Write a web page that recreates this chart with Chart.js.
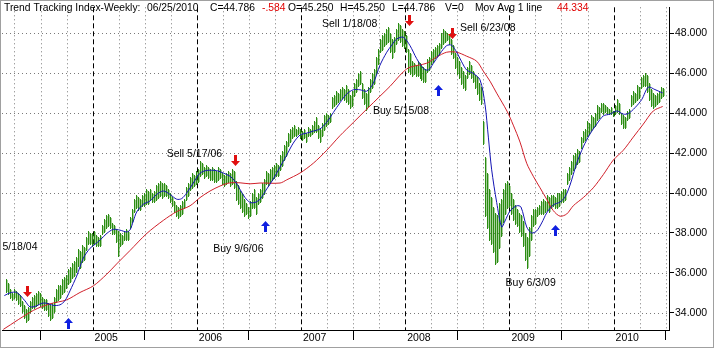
<!DOCTYPE html>
<html><head><meta charset="utf-8">
<script src="https://cdn.jsdelivr.net/npm/chart.js@4.4.1/dist/chart.umd.min.js"></script>
<style>html,body{margin:0;padding:0;background:#fff;overflow:hidden}canvas{display:block}</style>
</head><body><canvas id="c" width="714" height="348"></canvas>
<script>
// ---- weekly bars (high / low), last bar = week ending 06/25/2010 ----
const weekHigh = [
35.7,35.5,35.2,35.0,35.2,35.1,35.0,34.9,34.6,34.4,
34.2,34.3,34.6,34.8,34.9,35.0,35.1,35.0,34.8,34.7,
34.7,34.5,34.4,34.5,34.8,35.2,35.4,35.4,35.7,35.8,
35.9,36.2,36.3,36.5,36.6,36.8,37.2,37.1,37.4,37.3,
37.8,38.1,38.0,38.0,38.1,37.9,37.8,37.9,38.4,38.7,
38.9,38.95,38.8,38.5,38.4,38.2,38.1,38.0,37.9,38.1,
38.2,38.1,38.8,39.2,39.7,39.9,39.8,39.7,39.9,40.0,
40.2,40.1,40.2,40.0,40.1,40.4,40.5,40.6,40.5,40.5,
40.4,40.2,40.0,39.8,39.6,39.4,39.3,39.4,39.6,39.7,
40.3,40.5,40.8,41.0,40.9,41.1,41.2,41.6,41.5,41.3,
41.4,41.3,41.2,41.3,41.2,41.1,41.3,41.2,41.0,40.9,
41.0,41.1,41.0,41.2,41.1,40.6,40.4,40.1,40.0,39.7,
39.5,39.3,39.6,40.0,40.2,39.8,40.0,40.2,40.5,40.7,
41.1,41.0,41.2,41.3,41.4,41.5,41.4,41.9,42.1,42.4,
42.6,43.0,43.2,43.3,43.4,43.2,43.3,43.2,43.1,43.2,
43.0,43.3,43.2,43.4,43.6,43.8,43.4,43.2,43.5,43.9,
44.0,43.9,44.0,44.8,44.9,45.1,45.0,45.2,45.3,45.2,
45.4,45.2,44.9,45.1,45.5,45.7,46.0,46.1,45.5,45.2,
45.0,45.3,45.7,46.0,46.2,46.8,47.2,47.7,47.9,48.0,
48.2,48.3,48.0,47.7,47.8,48.2,48.5,48.4,48.2,48.1,
47.9,47.2,47.0,46.6,46.5,46.4,46.6,46.5,46.4,46.3,
46.2,46.7,46.8,47.1,47.2,47.3,47.4,47.5,48.0,48.2,
48.1,48.0,47.9,47.7,47.4,47.0,46.8,46.6,46.3,46.1,
45.9,46.3,46.6,46.4,46.1,45.9,45.8,45.5,45.3,43.6,
41.8,41.0,40.2,39.8,39.3,39.0,38.9,39.5,39.7,40.2,
40.5,40.6,40.4,40.0,39.7,39.4,39.2,39.0,38.9,38.6,
38.0,37.8,38.3,38.9,39.2,39.2,39.3,39.4,39.6,39.7,
39.6,39.9,39.8,39.9,39.9,39.8,40.0,40.0,40.1,40.2,
40.2,41.0,41.3,41.6,41.9,42.0,42.2,42.1,42.8,43.1,
43.2,43.6,43.5,43.9,43.8,44.0,44.4,44.3,44.5,44.5,
44.4,44.3,44.2,44.3,44.1,44.4,44.7,44.5,44.0,43.9,
43.8,44.1,44.2,44.9,45.1,45.0,45.4,45.3,45.8,45.9,
46.0,45.9,45.5,45.2,45.0,44.9,45.0,45.1,45.3,45.25];
const weekLow = [
35.0,34.9,34.7,34.6,34.7,34.6,34.4,34.3,34.0,33.7,
33.5,33.6,34.0,34.2,34.2,34.3,34.4,34.3,34.2,34.1,
34.1,33.8,33.6,33.7,34.0,34.5,34.6,34.7,34.9,35.0,
35.2,35.4,35.5,35.7,35.8,36.0,36.3,36.2,36.5,36.6,
37.1,37.4,37.4,37.3,37.4,37.3,37.3,37.3,37.9,38.0,
38.2,38.3,38.2,37.9,37.9,37.5,36.8,37.3,37.4,37.6,
37.6,37.6,38.2,38.5,39.0,39.2,39.1,39.1,39.3,39.3,
39.4,39.4,39.6,39.5,39.5,39.6,39.7,39.8,39.7,39.8,
39.8,39.7,39.5,39.3,39.0,38.8,38.7,38.8,38.9,39.2,
39.6,39.8,40.1,40.2,40.3,40.4,40.5,40.8,40.9,40.7,
40.8,40.7,40.6,40.6,40.5,40.5,40.6,40.7,40.4,40.3,
40.4,40.5,40.3,40.4,40.2,39.6,39.4,39.2,39.0,38.8,
38.9,38.7,38.8,39.2,39.2,38.9,39.4,39.5,39.7,39.9,
40.4,40.3,40.5,40.6,40.7,40.8,40.8,41.1,41.3,41.6,
41.8,42.3,42.5,42.7,42.8,42.8,42.9,42.7,42.6,42.7,
42.5,42.8,42.8,42.9,43.0,43.0,42.7,42.5,42.8,43.1,
43.3,43.4,43.5,44.2,44.3,44.4,44.5,44.6,44.7,44.6,
44.5,44.4,44.2,44.3,44.8,45.0,45.3,45.4,44.7,44.4,
44.1,44.3,45.0,45.2,45.4,45.9,46.4,47.0,47.1,47.3,
47.4,47.5,47.0,46.7,47.0,47.4,47.6,47.5,47.3,47.2,
47.0,46.0,45.9,45.8,45.9,45.8,45.8,45.7,45.6,45.5,
45.5,46.0,46.1,46.4,46.5,46.7,46.8,46.9,47.2,47.4,
47.5,47.6,47.4,46.9,46.7,46.2,45.9,45.7,45.4,45.2,
45.1,45.7,45.9,45.7,45.5,45.2,44.9,44.6,44.4,42.4,
38.8,38.2,37.6,37.4,37.0,36.4,36.5,37.2,37.8,38.5,
38.9,39.2,39.3,38.9,38.6,38.4,38.3,38.0,37.8,37.3,
36.6,36.2,36.8,37.6,38.3,38.4,38.8,38.9,38.9,38.9,
39.0,39.1,39.0,39.2,39.3,39.2,39.2,39.3,39.5,39.5,
39.6,40.4,40.6,40.9,41.1,41.2,41.4,41.5,42.2,42.5,
42.6,42.8,42.9,43.1,43.2,43.3,43.6,43.7,44.0,43.9,
44.0,43.9,43.9,43.9,43.8,43.9,44.0,43.9,43.4,43.2,
43.2,43.6,43.7,44.3,44.4,44.5,44.6,44.7,45.2,45.3,
45.3,45.0,44.6,44.3,44.2,44.3,44.4,44.5,44.7,44.786];
const lastWeekDate = [2010, 6, 25];

// ---- short moving average (blue) ----
const fastAvgYear = [2004.153,2004.207,2004.272,2004.351,2004.399,2004.464,2004.512,2004.560,2004.623,2004.687,2004.735,2004.783,2004.847,2004.911,2004.975,2005.023,2005.071,2005.135,2005.199,2005.263,2005.327,2005.359,2005.391,2005.423,2005.487,2005.551,2005.615,2005.679,2005.743,2005.807,2005.855,2005.903,2005.966,2006.031,2006.095,2006.191,2006.254,2006.319,2006.367,2006.415,2006.463,2006.511,2006.559,2006.607,2006.671,2006.734,2006.799,2006.863,2006.926,2006.990,2007.055,2007.118,2007.182,2007.247,2007.310,2007.374,2007.439,2007.502,2007.566,2007.631,2007.694,2007.758,2007.823,2007.870,2007.918,2007.982,2008.046,2008.110,2008.174,2008.222,2008.270,2008.334,2008.398,2008.446,2008.494,2008.542,2008.590,2008.654,2008.718,2008.766,2008.798,2008.830,2008.878,2008.926,2008.958,2009.006,2009.070,2009.111,2009.166,2009.214,2009.262,2009.310,2009.358,2009.421,2009.486,2009.534,2009.582,2009.646,2009.709,2009.774,2009.838,2009.901,2009.966,2010.030,2010.093,2010.141,2010.205,2010.270,2010.333,2010.397,2010.471];
const fastAvgValue = [34.86,35.00,35.02,34.60,34.30,34.35,34.48,34.48,34.37,34.40,34.61,35.10,35.84,36.74,37.23,37.43,37.64,37.97,38.18,38.14,38.05,38.15,38.60,39.05,39.44,39.60,39.93,40.10,39.93,39.69,39.72,40.00,40.50,40.99,41.13,41.12,41.00,40.84,40.59,40.18,39.77,39.53,39.53,39.69,40.20,40.70,41.30,41.90,42.50,42.90,43.00,43.10,43.21,43.54,44.03,44.52,44.96,45.17,45.17,45.10,45.50,46.40,47.05,47.40,47.71,47.80,47.38,46.73,46.24,46.16,46.49,46.98,47.38,47.40,47.05,46.57,46.16,45.99,45.67,44.44,42.80,41.16,39.53,38.30,38.60,39.10,39.36,39.30,38.30,38.00,38.10,38.50,39.00,39.40,39.55,39.80,40.40,41.49,42.31,42.96,43.45,43.86,43.95,44.11,43.95,43.98,44.27,44.68,45.30,45.18,45.01];

// ---- long moving average (red) ----
const slowAvgYear = [2004.143,2004.431,2004.591,2004.751,2004.879,2005.007,2005.135,2005.231,2005.359,2005.519,2005.679,2005.807,2005.935,2006.031,2006.127,2006.223,2006.319,2006.415,2006.511,2006.607,2006.799,2006.863,2006.990,2007.118,2007.247,2007.374,2007.502,2007.631,2007.758,2007.854,2007.982,2008.046,2008.206,2008.302,2008.398,2008.494,2008.590,2008.686,2008.750,2008.814,2008.878,2008.977,2009.037,2009.102,2009.166,2009.229,2009.294,2009.358,2009.421,2009.486,2009.550,2009.613,2009.709,2009.805,2009.901,2009.997,2010.093,2010.189,2010.285,2010.381,2010.471];
const slowAvgValue = [33.17,34.12,34.45,34.65,35.02,35.35,35.93,36.45,37.12,37.97,38.63,39.07,39.36,39.77,40.10,40.35,40.51,40.51,40.46,40.50,40.50,40.66,41.00,41.49,42.14,42.87,43.53,44.20,44.85,45.34,46.07,46.30,46.50,46.81,47.05,47.05,46.85,46.60,46.10,45.60,45.00,44.10,43.40,42.55,41.49,40.84,40.26,39.69,39.12,38.84,38.95,39.36,39.77,40.26,40.92,41.65,42.14,42.80,43.45,44.11,44.334];

// ---- axes ----
const yearTicks = [2005, 2006, 2007, 2008, 2009, 2010];
const priceTicks = [34, 36, 38, 40, 42, 44, 46, 48];

// ---- signals ----
const sellArrowYear = [2004.368, 2006.367, 2008.041, 2008.446];
const sellArrowPrice = [34.78, 41.33, 48.34, 47.73];
const buyArrowYear = [2004.767, 2006.655, 2008.318, 2009.441];
const buyArrowPrice = [33.73, 38.62, 45.42, 38.40];
const signalText = ['Sell 5/18/04', 'Sell 5/17/06', 'Buy 9/6/06', 'Sell 1/18/08', 'Buy 5/15/08', 'Sell 6/23/08', 'Buy 6/3/09'];
const signalYear = [2004.471, 2005.711, 2006.158, 2007.2015, 2007.691, 2008.526, 2008.963];
const signalPrice = [37.17, 41.78, 37.07, 48.29, 43.95, 48.12, 35.33];

// ---- header ----
const headerText = ['Trend Tracking Index-Weekly:', '06/25/2010', 'C=44.786', '-.584', 'O=45.250', 'H=45.250', 'L=44.786', 'V=0', 'Mov Avg 1 line', '44.334'];
const headerRed = [false, false, false, true, false, false, false, false, false, true];
const headerX = [4, 147, 210, 262, 288, 340, 392, 445, 475, 557];

const FONT_FAMILY = '"Liberation Sans", Arial, sans-serif';
const FONT_SIZE = 10.5;
const FONT = FONT_SIZE + 'px ' + FONT_FAMILY;
const HEADER_FONT = '10.3px ' + FONT_FAMILY;
const BAR_COLOR = '#2a8c12';
const BAR_SHADE = 'rgba(60,150,30,0.45)';

function toYear(ms) {
  const d = new Date(ms);
  const y = d.getUTCFullYear();
  const s = Date.UTC(y, 0, 1), e = Date.UTC(y + 1, 0, 1);
  return y + (ms - s) / (e - s);
}
const lastMs = Date.UTC(lastWeekDate[0], lastWeekDate[1] - 1, lastWeekDate[2]);
const barData = weekHigh.map((h, i) => ({
  x: toYear(lastMs - (weekHigh.length - 1 - i) * 7 * 86400000),
  y: [weekLow[i], h]
}));
const fastData = fastAvgYear.map((x, i) => ({x, y: fastAvgValue[i]}));
const slowData = slowAvgYear.map((x, i) => ({x, y: slowAvgValue[i]}));

const gridPlugin = {
  id: 'grid',
  beforeDatasetsDraw(chart) {
    const {ctx, chartArea: a, scales: {x, y}} = chart;
    ctx.save();
    ctx.lineWidth = 1;
    ctx.strokeStyle = '#7a7a7a';
    ctx.setLineDash([1, 3]);
    priceTicks.forEach(v => {
      const py = Math.round(y.getPixelForValue(v)) + 0.5;
      ctx.beginPath(); ctx.moveTo(a.left, py); ctx.lineTo(a.right, py); ctx.stroke();
    });
    for (let q = Math.ceil(x.min * 4); q <= Math.floor(x.max * 4); q++) {
      if (q % 4 === 0) continue;
      const px = Math.round(x.getPixelForValue(q / 4)) + 0.5;
      ctx.beginPath(); ctx.moveTo(px, a.top); ctx.lineTo(px, a.bottom); ctx.stroke();
    }
    ctx.strokeStyle = '#000';
    ctx.setLineDash([5, 3]);
    yearTicks.forEach(v => {
      const px = Math.round(x.getPixelForValue(v)) + 0.5;
      ctx.beginPath(); ctx.moveTo(px, a.top); ctx.lineTo(px, a.bottom); ctx.stroke();
    });
    ctx.restore();
  },
  beforeDatasetDraw(chart, args) {
    // crisp bars at the positions computed by the bar controller
    if (args.meta.type !== 'bar') return;
    const {ctx, chartArea: a} = chart;
    ctx.save();
    ctx.beginPath(); ctx.rect(a.left, a.top, a.right - a.left, a.bottom - a.top); ctx.clip();
    args.meta.data.forEach(el => {
      const px = Math.floor(el.x);
      const top = Math.round(Math.min(el.y, el.base));
      const bot = Math.round(Math.max(el.y, el.base));
      const h = Math.max(1, bot - top);
      ctx.fillStyle = BAR_SHADE;
      ctx.fillRect(px + 1, top + 1, 1, Math.max(1, h - 2));
      ctx.fillStyle = BAR_COLOR;
      ctx.fillRect(px, top, 1, h);
    });
    ctx.restore();
    return false;
  },
  afterDatasetsDraw(chart) {
    const {ctx, chartArea: a, scales: {x, y}} = chart;
    ctx.save();
    ctx.beginPath(); ctx.rect(a.left, a.top, a.right - a.left, a.bottom - a.top); ctx.clip();
    function arrow(px, py, dir, color) {
      px = Math.round(px) + 0.5; py = Math.round(py);
      ctx.fillStyle = color;
      ctx.beginPath();
      ctx.moveTo(px, py);
      ctx.lineTo(px - 4.5, py - 5 * dir);
      ctx.lineTo(px - 1.5, py - 5 * dir);
      ctx.lineTo(px - 1.5, py - 11 * dir);
      ctx.lineTo(px + 1.5, py - 11 * dir);
      ctx.lineTo(px + 1.5, py - 5 * dir);
      ctx.lineTo(px + 4.5, py - 5 * dir);
      ctx.closePath(); ctx.fill();
    }
    sellArrowYear.forEach((v, i) => arrow(x.getPixelForValue(v), y.getPixelForValue(sellArrowPrice[i]), 1, '#e01010'));
    buyArrowYear.forEach((v, i) => arrow(x.getPixelForValue(v), y.getPixelForValue(buyArrowPrice[i]), -1, '#1020e0'));
    ctx.restore();
    ctx.save();
    ctx.font = FONT; ctx.fillStyle = '#000'; ctx.textBaseline = 'alphabetic';
    signalText.forEach((t, i) => {
      ctx.textAlign = i === 0 ? 'right' : 'left';
      ctx.fillText(t, x.getPixelForValue(signalYear[i]), y.getPixelForValue(signalPrice[i]));
    });
    ctx.restore();
  },
  afterDraw(chart) {
    const {ctx} = chart;
    ctx.save();
    ctx.font = HEADER_FONT; ctx.textBaseline = 'alphabetic'; ctx.textAlign = 'left';
    headerText.forEach((t, i) => {
      ctx.fillStyle = headerRed[i] ? '#e00000' : '#000';
      ctx.fillText(t, headerX[i], 11);
    });
    ctx.strokeStyle = '#a0a0a0'; ctx.lineWidth = 1; ctx.setLineDash([]);
    ctx.strokeRect(0.5, 0.5, 713, 347);
    ctx.restore();
  }
};

new Chart(document.getElementById('c'), {
  type: 'bar',
  data: {
    datasets: [
      {type: 'line', data: fastData, borderColor: '#1414b4', borderWidth: 1, pointRadius: 0, tension: 0.3, order: 0},
      {type: 'line', data: slowData, borderColor: '#d0202a', borderWidth: 1, pointRadius: 0, tension: 0.3, order: 1},
      {type: 'bar', data: barData, backgroundColor: BAR_COLOR, borderWidth: 0, barThickness: 1, inflateAmount: 0, order: 2}
    ]
  },
  options: {
    responsive: false,
    devicePixelRatio: 1,
    animation: false,
    events: [],
    layout: {padding: {left: 2, top: 1, right: 0, bottom: 0}},
    plugins: {legend: {display: false}, tooltip: {enabled: false}},
    scales: {
      x: {
        type: 'linear', min: 2004.1305, max: 2010.5317, offset: false, position: 'bottom',
        grid: {display: true, drawOnChartArea: false, drawTicks: true, tickLength: 10, tickColor: '#000', color: '#000'},
        border: {display: true, color: '#000', width: 1},
        ticks: {font: {family: FONT_FAMILY, size: FONT_SIZE}, color: '#000', align: 'start', labelOffset: 2, padding: -8, maxRotation: 0, autoSkip: false, callback: v => String(v)},
        afterBuildTicks: s => { s.ticks = yearTicks.map(v => ({value: v})); },
        afterFit: s => { s.height = 18; }
      },
      y: {
        type: 'linear', position: 'right', min: 33.14, max: 49.30,
        grid: {display: true, drawOnChartArea: false, drawTicks: true, tickLength: 5, tickColor: '#000', color: '#000'},
        border: {display: true, color: '#000', width: 1},
        ticks: {font: {family: FONT_FAMILY, size: FONT_SIZE}, color: '#000', padding: 1, autoSkip: false, callback: v => v.toFixed(3)},
        afterBuildTicks: s => { s.ticks = priceTicks.map(v => ({value: v})); },
        afterFit: s => { s.width = 45; }
      }
    }
  },
  plugins: [gridPlugin]
});
</script>
</body></html>
